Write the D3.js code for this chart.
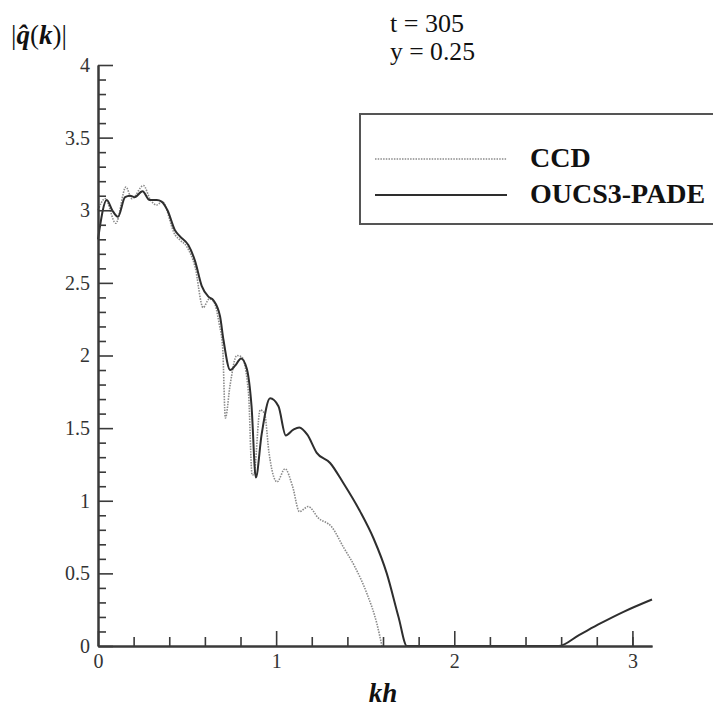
<!DOCTYPE html>
<html><head><meta charset="utf-8">
<script src="https://cdn.jsdelivr.net/npm/d3@7"></script>
<style>body{margin:0;background:#fff}svg{display:block}
text{font-family:"Liberation Serif","Times New Roman",Times,serif}</style>
</head><body>
<svg id="c" width="713" height="710"></svg>
<script>
// ---- data ----
const xMajorTicks = [0, 1, 2, 3];
const xMinorTicks = [0.2,0.4,0.6,0.8,1.2,1.4,1.6,1.8,2.2,2.4,2.6,2.8,3.0];
const yMajorTicks = [0, 0.5, 1, 1.5, 2, 2.5, 3, 3.5, 4];
const yTickLabels = ["0","0.5","1","1.5","2","2.5","3","3.5","4"];
const seriesNames = ["CCD", "OUCS3-PADE"];

const ccdKh  = [0, 0.04, 0.1, 0.157, 0.19, 0.255, 0.295, 0.33, 0.36, 0.433, 0.46, 0.498, 0.545, 0.59, 0.625, 0.65, 0.68, 0.70, 0.715, 0.742, 0.779, 0.807, 0.845, 0.865, 0.875, 0.91, 0.935, 0.96, 1.005, 1.05, 1.092, 1.131, 1.18, 1.238, 1.312, 1.378, 1.44, 1.51, 1.565, 1.594];
const ccdVal = [3.0, 3.08, 2.91, 3.16, 3.08, 3.17, 3.07, 3.036, 3.06, 2.83, 2.795, 2.75, 2.61, 2.33, 2.39, 2.37, 2.22, 2.05, 1.57, 1.80, 2.0, 1.99, 1.74, 1.177, 1.18, 1.625, 1.6, 1.33, 1.13, 1.22, 1.1, 0.925, 0.96, 0.88, 0.82, 0.68, 0.55, 0.36, 0.156, 0];

const oucsKh  = [0, 0.049, 0.08, 0.112, 0.152, 0.18, 0.205, 0.25, 0.29, 0.33, 0.357, 0.39, 0.433, 0.46, 0.507, 0.545, 0.582, 0.62, 0.648, 0.685, 0.704, 0.742, 0.77, 0.803, 0.835, 0.862, 0.886, 0.919, 0.966, 1.013, 1.054, 1.097, 1.13, 1.175, 1.228, 1.303, 1.378, 1.472, 1.547, 1.621, 1.687, 1.734, 2.0, 2.3, 2.586, 2.7, 2.82, 2.95, 3.11];
const oucsVal = [2.8, 3.07, 3.0, 2.955, 3.09, 3.1, 3.09, 3.13, 3.07, 3.07, 3.06, 3.0, 2.86, 2.82, 2.76, 2.65, 2.48, 2.405, 2.38, 2.27, 2.11, 1.90, 1.93, 1.98, 1.91, 1.65, 1.16, 1.46, 1.705, 1.65, 1.45, 1.49, 1.505, 1.455, 1.33, 1.26, 1.12, 0.925, 0.74, 0.50, 0.20, 0, 0, 0, 0, 0.075, 0.155, 0.235, 0.32];

// ---- chart ----
const svg = d3.select("#c");
const x = d3.scaleLinear().domain([0, 3.11]).range([98, 652]);
const y = d3.scaleLinear().domain([0, 4]).range([646, 65]);
const axisColor = "#3a3a3a";
const serif = "Liberation Serif, Times New Roman, Times, serif";

// lines
const line = d3.line().x(d => x(d[0])).y(d => y(d[1])).curve(d3.curveMonotoneX);
const ccd = ccdKh.map((k, i) => [k, ccdVal[i]]);
const oucs = oucsKh.map((k, i) => [k, oucsVal[i]]);

svg.append("path").attr("d", line(ccd)).attr("fill", "none")
  .attr("stroke", "#8a8a8a").attr("stroke-width", 1.6).attr("stroke-dasharray", "1.5,1.2");
svg.append("path").attr("d", line(oucs)).attr("fill", "none")
  .attr("stroke", "#2e2e2e").attr("stroke-width", 2);

// y axis
svg.append("g").attr("transform", `translate(${x(0)},0)`)
  .call(d3.axisLeft(y).tickValues(yMajorTicks).tickFormat((d, i) => yTickLabels[i])
    .tickSizeInner(-15).tickSizeOuter(0).tickPadding(8));
const yMinor = d3.range(0, 40).map(i => i / 10).filter(v => Math.round(v * 10) % 5 !== 0);
svg.append("g").attr("transform", `translate(${x(0)},0)`)
  .call(d3.axisLeft(y).tickValues(yMinor).tickFormat("").tickSizeInner(-8).tickSizeOuter(0));

// x axis
svg.append("g").attr("transform", `translate(0,${y(0)})`)
  .call(d3.axisBottom(x).tickValues(xMajorTicks).tickFormat(d3.format("d"))
    .tickSizeInner(-15).tickSizeOuter(0).tickPadding(8));
svg.append("g").attr("transform", `translate(0,${y(0)})`)
  .call(d3.axisBottom(x).tickValues(xMinorTicks).tickFormat("").tickSizeInner(-9).tickSizeOuter(0));

svg.selectAll("g").attr("font-family", serif);
svg.selectAll(".domain").attr("stroke", axisColor).attr("stroke-width", 2);
svg.selectAll(".tick line").attr("stroke", axisColor).attr("stroke-width", 1.6);
svg.selectAll(".tick text").attr("font-family", serif).attr("font-size", 20).attr("fill", "#333");

// axis titles
const yt = svg.append("text").attr("x", 11).attr("y", 44).attr("font-family", serif)
  .attr("font-size", 27).attr("fill", "#111");
yt.append("tspan").text("|");
yt.append("tspan").attr("font-weight", "bold").attr("font-style", "italic").text("q\u0302");
yt.append("tspan").text("(");
yt.append("tspan").attr("font-weight", "bold").attr("font-style", "italic").text("k");
yt.append("tspan").text(")|");

svg.append("text").attr("x", 383).attr("y", 702).attr("text-anchor", "middle")
  .attr("font-family", serif).attr("font-size", 27).attr("font-weight", "bold")
  .attr("font-style", "italic").attr("fill", "#111").text("kh");

// annotation
svg.append("text").attr("x", 390).attr("y", 32).attr("font-family", serif)
  .attr("font-size", 25).attr("fill", "#111").attr("textLength", 74)
  .attr("lengthAdjust", "spacingAndGlyphs").text("t = 305");
svg.append("text").attr("x", 390).attr("y", 60).attr("font-family", serif)
  .attr("font-size", 25).attr("fill", "#111").attr("textLength", 85)
  .attr("lengthAdjust", "spacingAndGlyphs").text("y = 0.25");

// legend
const lg = svg.append("g");
lg.append("rect").attr("x", 360).attr("y", 114).attr("width", 360).attr("height", 110)
  .attr("fill", "#fff").attr("stroke", "#555").attr("stroke-width", 2);
const legendStyles = [
  {stroke: "#8a8a8a", width: 1.6, dash: "1.5,1.2", y: 159},
  {stroke: "#2e2e2e", width: 2, dash: null, y: 195}
];
seriesNames.forEach((name, i) => {
  const s = legendStyles[i];
  lg.append("line").attr("x1", 375).attr("x2", 507).attr("y1", s.y).attr("y2", s.y)
    .attr("stroke", s.stroke).attr("stroke-width", s.width)
    .attr("stroke-dasharray", s.dash);
  lg.append("text").attr("x", 530).attr("y", s.y + 8).attr("font-family", serif)
    .attr("font-size", 28).attr("font-weight", "bold").attr("fill", "#111").text(name);
});
</script>
</body></html>
